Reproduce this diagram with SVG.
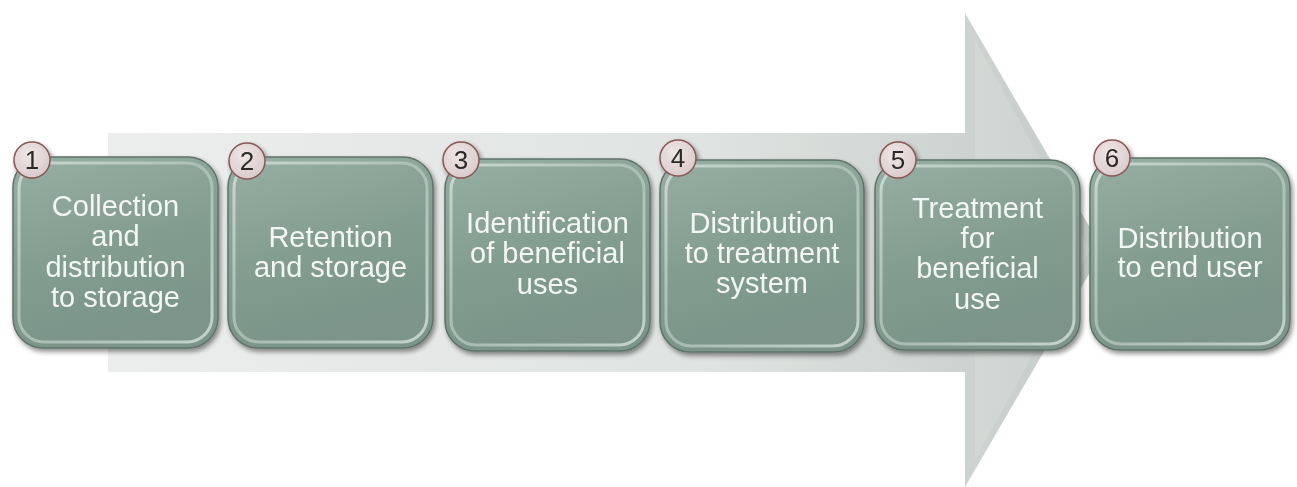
<svg xmlns="http://www.w3.org/2000/svg" width="1297" height="487" viewBox="0 0 1297 487">
<defs>
<linearGradient id="arrowG" x1="0" y1="0" x2="1" y2="0">
<stop offset="0" stop-color="#eceeed"/>
<stop offset="0.6" stop-color="#dfe3e1"/>
<stop offset="1" stop-color="#c3cbc7"/>
</linearGradient>
<linearGradient id="boxG" x1="0" y1="0" x2="0.3" y2="1">
<stop offset="0" stop-color="#97aea3"/>
<stop offset="0.55" stop-color="#849d91"/>
<stop offset="1" stop-color="#7b9489"/>
</linearGradient>
<linearGradient id="rimG" x1="0" y1="0" x2="1" y2="1">
<stop offset="0" stop-color="#dfeae4"/>
<stop offset="0.5" stop-color="#b8cac1"/>
<stop offset="1" stop-color="#e4ede8"/>
</linearGradient>
<radialGradient id="badgeG" cx="0.4" cy="0.35" r="0.7">
<stop offset="0" stop-color="#efe6e6"/>
<stop offset="1" stop-color="#d8caca"/>
</radialGradient>
<filter id="sh" x="-10%" y="-10%" width="130%" height="130%">
<feGaussianBlur in="SourceAlpha" stdDeviation="2.5"/>
<feOffset dx="2" dy="3"/>
<feComponentTransfer><feFuncA type="linear" slope="0.45"/></feComponentTransfer>
<feMerge><feMergeNode/><feMergeNode in="SourceGraphic"/></feMerge>
</filter>
</defs>
<style>
.box{fill:url(#boxG);stroke:#5f7369;stroke-width:1.5}
.rim{fill:none;stroke:url(#rimG);stroke-width:3;opacity:0.7}
.lbl{font-family:"Liberation Sans",Arial,sans-serif;font-size:29px;fill:#f3f6f4;text-anchor:middle}
.num{font-family:"Liberation Sans",Arial,sans-serif;font-size:26px;fill:#2a2a2a;text-anchor:middle}
.badge{fill:url(#badgeG);stroke:#8b5656;stroke-width:1.5}
</style>
<rect width="1297" height="487" fill="#ffffff"/>
<g id="arrow">
<path d="M108,133 L965,133 L965,13 L1103,250 L965,487 L965,372 L108,372 Z" fill="url(#arrowG)"/>
<path d="M975,40 L1090,250 L975,460 Z" fill="#ffffff" opacity="0.12"/>
</g>
<g id="connectors"></g>
<g id="node1" filter="url(#sh)">
<rect class="box" x="13" y="157" width="205" height="191" rx="30"/>
<rect class="rim" x="19" y="163" width="193" height="179" rx="25"/>
<text class="lbl"><tspan x="115.5" y="216">Collection</tspan><tspan x="115.5" y="246">and</tspan><tspan x="115.5" y="277">distribution</tspan><tspan x="115.5" y="307">to storage</tspan></text>
<circle class="badge" cx="32" cy="160" r="18"/><text class="num" x="32" y="169">1</text>
</g>
<g id="node2" filter="url(#sh)">
<rect class="box" x="228" y="157" width="205" height="191" rx="30"/>
<rect class="rim" x="234" y="163" width="193" height="179" rx="25"/>
<text class="lbl"><tspan x="330.5" y="247">Retention</tspan><tspan x="330.5" y="277">and storage</tspan></text>
<circle class="badge" cx="247" cy="161" r="18"/><text class="num" x="247" y="170">2</text>
</g>
<g id="node3" filter="url(#sh)">
<rect class="box" x="445" y="159" width="205" height="192" rx="30"/>
<rect class="rim" x="451" y="165" width="193" height="180" rx="25"/>
<text class="lbl"><tspan x="547.5" y="233">Identification</tspan><tspan x="547.5" y="263">of beneficial</tspan><tspan x="547.5" y="294">uses</tspan></text>
<circle class="badge" cx="461" cy="160" r="18"/><text class="num" x="461" y="169">3</text>
</g>
<g id="node4" filter="url(#sh)">
<rect class="box" x="660" y="160" width="204" height="192" rx="30"/>
<rect class="rim" x="666" y="166" width="192" height="180" rx="25"/>
<text class="lbl"><tspan x="762" y="233">Distribution</tspan><tspan x="762" y="263">to treatment</tspan><tspan x="762" y="293">system</tspan></text>
<circle class="badge" cx="678" cy="158" r="18"/><text class="num" x="678" y="167">4</text>
</g>
<g id="node5" filter="url(#sh)">
<rect class="box" x="875" y="160" width="205" height="190" rx="30"/>
<rect class="rim" x="881" y="166" width="193" height="178" rx="25"/>
<text class="lbl"><tspan x="977.5" y="218">Treatment</tspan><tspan x="977.5" y="248">for</tspan><tspan x="977.5" y="278">beneficial</tspan><tspan x="977.5" y="309">use</tspan></text>
<circle class="badge" cx="898" cy="160" r="18"/><text class="num" x="898" y="169">5</text>
</g>
<g id="node6" filter="url(#sh)">
<rect class="box" x="1090" y="158" width="200" height="192" rx="30"/>
<rect class="rim" x="1096" y="164" width="188" height="180" rx="25"/>
<text class="lbl"><tspan x="1190" y="248">Distribution</tspan><tspan x="1190" y="277">to end user</tspan></text>
<circle class="badge" cx="1112" cy="158" r="18"/><text class="num" x="1112" y="167">6</text>
</g>
</svg>
